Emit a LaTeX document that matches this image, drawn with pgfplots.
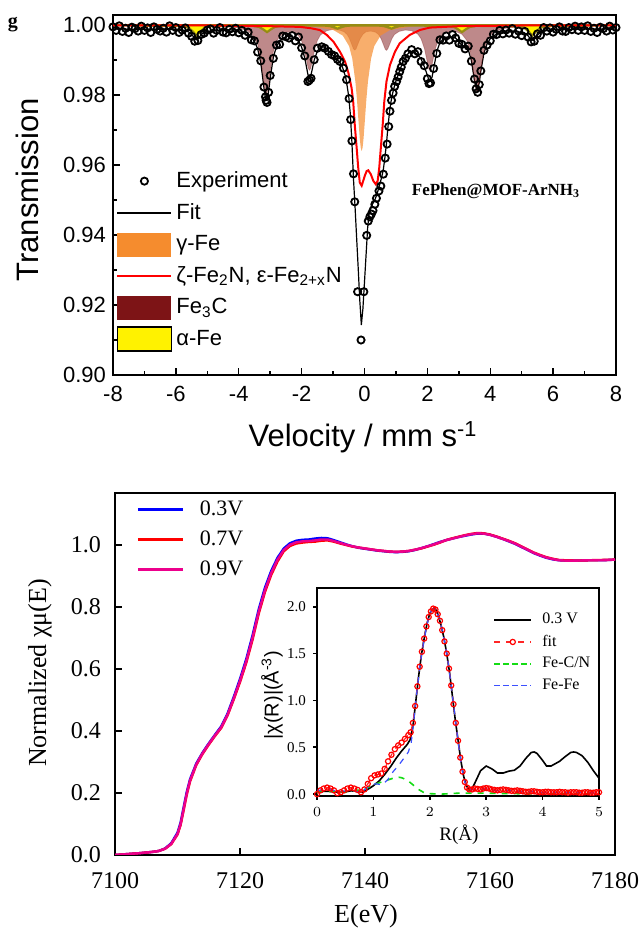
\documentclass[border=0pt]{standalone}
\usepackage{fontspec}
\setmainfont{Liberation Serif}
\newfontfamily\arial{Liberation Sans}
\usepackage{pgfplots}
\usepackage{pgfplotstable}
\pgfplotsset{compat=1.18}
\newcommand\fs[1]{\fontsize{#1}{#1}\selectfont}
\definecolor{fec}{RGB}{125,20,22}
\definecolor{gfe}{RGB}{245,140,46}
\definecolor{afeline}{RGB}{150,140,20}
\definecolor{grn}{RGB}{20,220,20}
\definecolor{bludash}{RGB}{60,80,255}

\pgfplotstableread{
E b r m
7100 0.000 0.000 0.000
7102 0.003 0.003 0.003
7104 0.006 0.006 0.006
7106 0.010 0.010 0.010
7107 0.013 0.013 0.013
7108 0.021 0.020 0.020
7109 0.038 0.035 0.036
7110 0.072 0.066 0.068
7110.5 0.105 0.097 0.100
7111 0.156 0.146 0.150
7111.5 0.205 0.196 0.200
7112 0.244 0.237 0.240
7113 0.295 0.290 0.292
7114 0.330 0.326 0.328
7115 0.360 0.356 0.358
7116 0.388 0.384 0.386
7117 0.415 0.410 0.412
7118 0.456 0.450 0.452
7119 0.510 0.502 0.505
7120 0.568 0.558 0.562
7121 0.632 0.620 0.625
7122 0.708 0.694 0.700
7123 0.793 0.779 0.785
7124 0.863 0.849 0.855
7125 0.917 0.904 0.910
7126 0.959 0.947 0.953
7127 0.989 0.980 0.984
7128 1.006 0.997 1.001
7129 1.014 1.005 1.009
7130 1.017 1.008 1.012
7131 1.018 1.010 1.013
7132 1.021 1.011 1.015
7133 1.023 1.014 1.018
7134 1.022 1.015 1.018
7135 1.016 1.011 1.013
7136 1.009 1.005 1.007
7137 1.002 1.000 1.001
7138 0.996 0.995 0.996
7139 0.991 0.992 0.992
7140 0.988 0.989 0.989
7141 0.985 0.986 0.986
7142 0.982 0.983 0.983
7143 0.980 0.981 0.981
7144 0.978 0.979 0.979
7145 0.977 0.978 0.978
7146 0.978 0.979 0.979
7147 0.980 0.981 0.981
7148 0.984 0.985 0.985
7149 0.990 0.989 0.990
7150 0.996 0.995 0.996
7151 1.003 1.001 1.002
7152 1.010 1.008 1.009
7153 1.016 1.016 1.016
7154 1.021 1.022 1.021
7155 1.026 1.027 1.026
7156 1.030 1.032 1.031
7157 1.034 1.036 1.035
7158 1.037 1.039 1.038
7159 1.037 1.038 1.037
7160 1.033 1.034 1.033
7161 1.027 1.028 1.027
7162 1.020 1.021 1.020
7163 1.012 1.014 1.013
7164 1.004 1.006 1.005
7165 0.994 0.996 0.995
7166 0.984 0.986 0.985
7167 0.974 0.976 0.975
7168 0.966 0.968 0.967
7169 0.959 0.961 0.960
7170 0.954 0.956 0.955
7171 0.951 0.952 0.951
7172 0.950 0.951 0.950
7174 0.950 0.950 0.950
7176 0.951 0.951 0.951
7178 0.951 0.952 0.951
7180 0.953 0.953 0.953
}\xanes

\pgfplotstableread{
R y
0.00 0.02
0.10 0.03
0.20 0.03
0.30 0.025
0.40 0.02
0.50 0.025
0.60 0.035
0.70 0.03
0.80 0.02
0.90 0.05
1.00 0.09
1.10 0.14
1.20 0.21
1.30 0.29
1.40 0.38
1.50 0.46
1.60 0.53
1.65 0.58
1.70 0.72
1.75 0.98
1.80 1.25
1.85 1.48
1.90 1.66
1.95 1.82
2.00 1.93
2.05 1.975
2.08 1.98
2.10 1.975
2.15 1.91
2.20 1.80
2.25 1.67
2.30 1.50
2.35 1.30
2.40 1.05
2.45 0.80
2.50 0.58
2.55 0.36
2.60 0.19
2.65 0.09
2.70 0.04
2.75 0.06
2.80 0.12
2.90 0.25
3.00 0.30
3.10 0.27
3.20 0.225
3.30 0.225
3.40 0.245
3.50 0.255
3.60 0.30
3.70 0.38
3.80 0.445
3.85 0.45
3.90 0.435
4.00 0.36
4.07 0.30
4.15 0.30
4.30 0.35
4.40 0.40
4.50 0.445
4.55 0.45
4.60 0.445
4.70 0.41
4.80 0.34
4.90 0.25
5.00 0.17
}\chidata

\pgfplotstableread{
R y
0.00 0.00
0.06 0.04
0.12 0.06
0.18 0.07
0.24 0.06
0.30 0.04
0.36 0.01
0.42 0.02
0.48 0.04
0.54 0.06
0.60 0.07
0.66 0.06
0.72 0.045
0.78 0.02
0.84 0.05
0.90 0.11
0.96 0.17
1.02 0.20
1.08 0.21
1.14 0.22
1.20 0.27
1.26 0.35
1.32 0.42
1.38 0.48
1.44 0.52
1.50 0.55
1.56 0.59
1.62 0.63
1.66 0.66
1.70 0.76
1.74 0.94
1.78 1.15
1.82 1.36
1.86 1.52
1.90 1.66
1.94 1.79
1.98 1.89
2.02 1.95
2.06 1.98
2.10 1.97
2.14 1.92
2.18 1.85
2.22 1.75
2.26 1.63
2.30 1.50
2.34 1.34
2.38 1.16
2.42 0.96
2.46 0.76
2.50 0.57
2.54 0.39
2.58 0.24
2.62 0.13
2.66 0.07
2.70 0.05
2.75 0.05
2.80 0.06
2.85 0.055
2.90 0.05
2.95 0.06
3.00 0.065
3.05 0.06
3.10 0.05
3.15 0.045
3.20 0.04
3.25 0.045
3.30 0.05
3.35 0.045
3.40 0.04
3.45 0.035
3.50 0.035
3.55 0.04
3.60 0.035
3.65 0.03
3.70 0.025
3.75 0.025
3.80 0.03
3.85 0.03
3.90 0.025
3.95 0.02
4.00 0.02
4.05 0.025
4.10 0.025
4.15 0.02
4.20 0.02
4.25 0.02
4.30 0.025
4.35 0.02
4.40 0.02
4.45 0.015
4.50 0.02
4.55 0.02
4.60 0.02
4.65 0.015
4.70 0.015
4.75 0.02
4.80 0.02
4.85 0.015
4.90 0.015
4.95 0.02
5.00 0.02
}\chifit

\pgfplotstableread{
R y
0.00 0.04
0.10 0.045
0.20 0.05
0.30 0.04
0.40 0.03
0.50 0.035
0.60 0.04
0.70 0.03
0.78 0.02
0.85 0.05
0.95 0.10
1.05 0.11
1.15 0.10
1.25 0.15
1.35 0.24
1.45 0.31
1.55 0.39
1.62 0.45
1.67 0.55
1.70 0.70
1.74 0.92
1.78 1.14
1.82 1.35
1.86 1.51
1.90 1.65
1.94 1.78
1.98 1.88
2.02 1.95
2.06 1.98
2.10 1.97
2.14 1.92
2.18 1.85
2.22 1.75
2.26 1.63
2.30 1.50
2.34 1.34
2.38 1.16
2.42 0.96
2.46 0.76
2.50 0.57
2.54 0.39
2.58 0.24
2.62 0.13
2.66 0.07
2.70 0.045
2.80 0.05
2.90 0.045
3.00 0.06
3.10 0.045
3.20 0.035
3.30 0.045
3.40 0.04
3.50 0.03
3.60 0.03
3.70 0.02
3.80 0.03
3.90 0.025
4.00 0.015
4.20 0.02
4.40 0.015
4.60 0.02
4.80 0.01
5.00 0.015
}\chifefe

\pgfplotstableread{
R y
0.0 0.02
0.3 0.03
0.5 0.02
0.7 0.04
0.8 0.05
0.9 0.07
1.0 0.10
1.1 0.12
1.2 0.14
1.3 0.16
1.4 0.18
1.45 0.18
1.5 0.175
1.6 0.15
1.7 0.10
1.8 0.05
1.9 0.015
2.0 0.005
2.2 0.0
2.5 0.01
3.0 0.01
3.5 0.005
4.0 0.0
4.5 0.005
5.0 0.005
}\chifec

\begin{document}
\begin{tikzpicture}
\useasboundingbox (0,0) rectangle (320pt,465pt);

% ================= TOP: Moessbauer =================
\begin{axis}[
  at={(56.5pt,277.5pt)}, anchor=south west,
  width=251.5pt, height=180pt, scale only axis,
  xmin=-8, xmax=8, ymin=0.9, ymax=1.0029,
  xtick={-8,-6,-4,-2,0,2,4,6,8}, xticklabels={-8,-6,-4,-2,0,2,4,6,8},
  ytick={0.9,0.92,0.94,0.96,0.98,1.0}, yticklabels={0.90,0.92,0.94,0.96,0.98,1.00},
  minor xtick={-7,-5,-3,-1,1,3,5,7}, minor ytick={0.91,0.93,0.95,0.97,0.99},
  tick pos=left, tick align=inside, major tick length=3.5pt, minor tick length=2pt,
  axis line style={line width=0.7pt}, tick style={line width=0.7pt, black},
  tick label style={font=\arial\fs{11}},
  xticklabel style={yshift=-2pt},
  legend style={at={(0.006,0.577)}, anchor=north west, draw=none, fill=none,
    font=\arial\fs{11}, row sep=2.5pt, inner sep=0pt, cells={anchor=west}},
]
% experiment
\addplot[only marks, mark=o, mark size=1.8pt, mark options={line width=0.9pt, black}, forget plot] coordinates {
(-8.0,.9995) (-7.9,.9985) (-7.8,.9998) (-7.7,.9982) (-7.6,.9991) (-7.5,.9979) (-7.4,.9994) (-7.3,.9990) (-7.2,.9983) (-7.1,.9997)
(-7.0,.9985) (-6.9,.9992) (-6.8,.9979) (-6.7,.9995) (-6.6,.9988) (-6.5,.9983) (-6.4,.9991) (-6.3,.9980) (-6.2,.9998) (-6.1,.9985)
(-6.0,.9993) (-5.9,.9979) (-5.8,.9986) (-5.7,.9992) (-5.6,.9977) (-5.5,.9968) (-5.4,.9954) (-5.3,.9956) (-5.2,.9973) (-5.1,.9977)
(-5.0,.9986) (-4.9,.9989) (-4.8,.9977) (-4.7,.9985) (-4.6,.9993) (-4.5,.9980) (-4.4,.9978) (-4.3,.9988) (-4.2,.9981) (-4.1,.9991)
(-4.0,.9978) (-3.9,.9985) (-3.8,.9971) (-3.7,.9980) (-3.6,.9958) (-3.5,.9955) (-3.4,.9923) (-3.3,.9898) (-3.2,.9823) (-3.15,.9795)
(-3.13,.9785) (-3.1,.9779) (-3.05,.9808) (-3.0,.9856) (-2.9,.9905) (-2.8,.9943) (-2.7,.9945) (-2.6,.9969) (-2.5,.9967) (-2.4,.9963)
(-2.3,.9970) (-2.2,.9955) (-2.1,.9966) (-2.0,.9935) (-1.9,.9912) (-1.8,.9839) (-1.75,.9843) (-1.7,.9848) (-1.6,.9901) (-1.5,.9934)
(-1.36,.9938) (-1.26,.9934) (-1.15,.9925) (-1.05,.9916) (-0.95,.9912) (-0.86,.9902) (-0.78,.9896) (-0.67,.9877) (-0.57,.9844)
(-0.49,.9790) (-0.44,.9730) (-0.40,.9669) (-0.35,.9575) (-0.31,.9495) (-0.22,.9238) (-0.11,.9100) (-0.02,.9238) (0.07,.9399)
(0.12,.9440) (0.17,.9452) (0.22,.9460) (0.27,.9470) (0.33,.9488) (0.38,.9505) (0.46,.9526) (0.52,.9540) (0.60,.9574) (0.66,.9620)
(0.72,.9660) (0.77,.9710) (0.81,.9754) (0.86,.9785) (0.91,.9806) (0.96,.9825) (1.02,.9839) (1.07,.9852) (1.12,.9867) (1.17,.9880)
(1.23,.9896) (1.30,.9905) (1.38,.9918) (1.5,.9930) (1.6,.9918) (1.7,.9924) (1.8,.9896) (1.9,.9884) (2.0,.9847) (2.05,.9833)
(2.1,.9835) (2.2,.9876) (2.3,.9919) (2.4,.9958) (2.5,.9957) (2.6,.9969) (2.7,.9957) (2.8,.9973) (2.9,.9963) (3.0,.9948)
(3.1,.9945) (3.2,.9932) (3.3,.9940) (3.4,.9897) (3.5,.9846) (3.55,.9818) (3.6,.9808) (3.65,.9830) (3.7,.9869) (3.8,.9928)
(3.9,.9943) (4.0,.9955) (4.1,.9974) (4.2,.9973) (4.3,.9985) (4.4,.9975) (4.5,.9986) (4.6,.9977) (4.7,.9990) (4.8,.9974)
(4.9,.9983) (5.0,.9970) (5.1,.9982) (5.2,.9966) (5.3,.9952) (5.4,.9954) (5.5,.9975) (5.6,.9971) (5.7,.9993) (5.8,.9983)
(5.9,.9992) (6.0,.9980) (6.1,.9988) (6.2,.9995) (6.3,.9983) (6.4,.9982) (6.5,.9993) (6.6,.9987) (6.7,.9997) (6.8,.9985)
(6.9,.9995) (7.0,.9985) (7.1,.9998) (7.2,.9982) (7.3,.9991) (7.4,.9979) (7.5,.9994) (7.6,.9990) (7.7,.9983) (7.8,.9997)
(7.9,.9986) (8.0,.9993)};
% fit
\addplot[black, line width=0.6pt, forget plot] coordinates {
(-8,.9989) (-7,.9988) (-6.5,.9988) (-6.2,.9988) (-6.0,.9987) (-5.9,.9986) (-5.8,.9985) (-5.7,.9984) (-5.6,.9981) (-5.5,.9974)
(-5.4,.9962) (-5.34,.9958) (-5.3,.9960) (-5.2,.9972) (-5.1,.9980) (-5.0,.9982) (-4.9,.9983) (-4.8,.9984) (-4.6,.9985) (-4.4,.9984)
(-4.3,.9983) (-4.2,.9982) (-4.1,.9982) (-4.0,.9981) (-3.9,.9979) (-3.8,.9975) (-3.7,.9971) (-3.6,.9965) (-3.5,.9953) (-3.4,.9933)
(-3.3,.9893) (-3.2,.9822) (-3.15,.9789) (-3.1,.9785) (-3.05,.9811) (-3.0,.9848) (-2.9,.9908) (-2.8,.9939) (-2.7,.9954) (-2.6,.9962)
(-2.5,.9967) (-2.4,.9968) (-2.3,.9967) (-2.2,.9963) (-2.1,.9956) (-2.0,.9937) (-1.9,.9906) (-1.8,.9859) (-1.75,.9850) (-1.7,.9858)
(-1.6,.9900) (-1.5,.9926) (-1.4,.9936) (-1.3,.9938) (-1.2,.9932) (-1.1,.9923) (-1.0,.9914) (-0.9,.9905) (-0.8,.9895) (-0.7,.9880)
(-0.6,.9852) (-0.55,.9825) (-0.5,.9795) (-0.45,.9745) (-0.4,.9665) (-0.35,.9560) (-0.3,.9480) (-0.25,.9392) (-0.2,.9305) (-0.15,.9214)
(-0.1,.9143) (-0.05,.9190) (0.0,.9266) (0.05,.9343) (0.1,.9420) (0.15,.9465) (0.2,.9480) (0.25,.9488) (0.3,.9495) (0.35,.9505)
(0.4,.9518) (0.45,.9533) (0.5,.9550) (0.55,.9566) (0.6,.9588) (0.65,.9622) (0.7,.9663) (0.75,.9712) (0.8,.9755) (0.85,.9785)
(0.9,.9807) (0.95,.9825) (1.0,.9840) (1.1,.9865) (1.2,.9890) (1.3,.9908) (1.4,.9920) (1.5,.9924) (1.6,.9922) (1.7,.9915)
(1.8,.9903) (1.9,.9882) (2.0,.9857) (2.05,.9842) (2.1,.9840) (2.15,.9852) (2.2,.9875) (2.3,.9925) (2.4,.9950) (2.5,.9960)
(2.6,.9965) (2.7,.9966) (2.8,.9966) (2.9,.9963) (3.0,.9953) (3.1,.9942) (3.2,.9940) (3.3,.9930) (3.4,.9899) (3.5,.9840)
(3.58,.9812) (3.65,.9835) (3.7,.9868) (3.8,.9920) (3.9,.9947) (4.0,.9961) (4.1,.9969) (4.2,.9974) (4.3,.9976) (4.4,.9978)
(4.5,.9980) (4.6,.9981) (4.9,.9981) (5.0,.9980) (5.1,.9977) (5.2,.9970) (5.3,.9958) (5.34,.9957) (5.4,.9960) (5.5,.9972)
(5.6,.9979) (5.7,.9983) (5.8,.9985) (5.9,.9986) (6.0,.9987) (6.5,.9988) (7.0,.9989) (8.0,.9989)};
% Fe3C
\addplot[fill=fec, fill opacity=0.5, draw=fec, draw opacity=0.3, line width=0.4pt, forget plot] coordinates {
(-8,1.0) (-6,.9999) (-5,.9998) (-4.5,.9996) (-4,.9992) (-3.7,.9983) (-3.5,.9966) (-3.4,.9946) (-3.3,.9906) (-3.2,.9838)
(-3.16,.9813) (-3.12,.9803) (-3.08,.9813) (-3.0,.9867) (-2.9,.9924) (-2.8,.9953) (-2.7,.9968) (-2.5,.9980) (-2.3,.9980) (-2.1,.9970)
(-2.0,.9955) (-1.92,.9932) (-1.85,.9902) (-1.79,.9877) (-1.75,.9871) (-1.71,.9877) (-1.65,.9903) (-1.58,.9933) (-1.5,.9956) (-1.4,.9972)
(-1.2,.9984) (-1.0,.9988) (-0.8,.9986) (-0.65,.9981) (-0.55,.9973) (-0.48,.9962) (-0.41,.9946) (-0.35,.9932) (-0.31,.9929) (-0.27,.9932)
(-0.21,.9946) (-0.14,.9961) (-0.05,.9974) (0.05,.9981) (0.2,.9983) (0.35,.9980) (0.45,.9973) (0.53,.9961) (0.6,.9945) (0.66,.9931)
(0.70,.9928) (0.74,.9932) (0.8,.9945) (0.87,.9961) (0.95,.9973) (1.1,.9982) (1.3,.9986) (1.5,.9984) (1.7,.9974) (1.8,.9961)
(1.91,.9932) (1.98,.9902) (2.04,.9876) (2.08,.9870) (2.12,.9875) (2.18,.9901) (2.25,.9931) (2.35,.9958) (2.5,.9975) (2.7,.9982)
(2.9,.9982) (3.1,.9974) (3.25,.9957) (3.35,.9931) (3.45,.9879) (3.5,.9845) (3.54,.9821) (3.58,.9812) (3.62,.9822) (3.66,.9845)
(3.75,.9904) (3.85,.9944) (3.95,.9965) (4.1,.9980) (4.4,.9990) (5,.9996) (6,.9999) (8,1.0)} -- cycle;
% gamma-Fe
\addplot[fill=gfe, fill opacity=0.7, draw=none, forget plot] coordinates {
(-2.0,1.0) (-1.59,.9995) (-0.99,.9986) (-0.69,.9970) (-0.49,.9940) (-0.39,.9905) (-0.29,.9839) (-0.24,.9788) (-0.19,.9725)
(-0.15,.9676) (-0.12,.9650) (-0.09,.9640) (-0.06,.9650) (-0.03,.9676) (0.01,.9725) (0.06,.9788) (0.11,.9839) (0.21,.9905)
(0.31,.9940) (0.51,.9970) (0.81,.9986) (1.41,.9995) (1.8,1.0)} -- cycle;
% alpha-Fe
\addplot[fill=yellow, draw=afeline, line width=1.1pt, forget plot] coordinates {
(-8,1) (-5.79,.99969) (-5.59,.99922) (-5.46,.99817) (-5.34,.997) (-5.22,.99817) (-5.09,.99922) (-4.89,.99969)
(-3.55,.99979) (-3.35,.99948) (-3.22,.99878) (-3.1,.998) (-2.98,.99878) (-2.85,.99948) (-2.65,.99979)
(-1.31,.9999) (-1.11,.99974) (-0.98,.99939) (-0.86,.999) (-0.74,.99939) (-0.61,.99974) (-0.41,.9999)
(0.41,.9999) (0.61,.99974) (0.74,.99939) (0.86,.999) (0.98,.99939) (1.11,.99974) (1.31,.9999)
(2.65,.99979) (2.85,.99948) (2.98,.99878) (3.1,.998) (3.22,.99878) (3.35,.99948) (3.55,.99979)
(4.89,.99969) (5.09,.99922) (5.22,.99817) (5.34,.997) (5.46,.99817) (5.59,.99922) (5.79,.99969) (8,1)} -- cycle;
% zeta/epsilon nitrides
\addplot[red, line width=1pt, forget plot] coordinates {
(-8,.99995) (-5,.9999) (-3,.9997) (-2.05,.9995) (-1.7,.9991) (-1.42,.9986) (-1.2,.9972) (-0.99,.9953) (-0.78,.9924)
(-0.62,.9896) (-0.51,.9863) (-0.41,.9820) (-0.36,.9782) (-0.31,.9716) (-0.25,.9650) (-0.2,.9593) (-0.15,.9550) (-0.09,.9541)
(-0.04,.9555) (0.02,.9572) (0.07,.9583) (0.12,.9585) (0.2,.9574) (0.28,.9555) (0.36,.9545) (0.42,.9555) (0.47,.9593)
(0.52,.9650) (0.58,.9716) (0.63,.9782) (0.70,.9839) (0.81,.9886) (0.97,.9924) (1.12,.9948) (1.44,.9972) (1.76,.9986)
(2.08,.9993) (3,.9997) (5,.9999) (8,.99995)};
% legend
\addlegendimage{legend image code/.code={\path[draw=none,fill=none] (0pt,-6pt) rectangle (27pt,6pt); \draw[black, fill=none, line width=0.9pt] (13.5pt,0pt) circle (1.8pt);}}
\addlegendentry{Experiment}
\addlegendimage{legend image code/.code={\path[draw=none,fill=none] (0pt,-6pt) rectangle (27pt,6pt); \draw[black, line width=0.6pt] (0pt,0pt) -- (27pt,0pt);}}
\addlegendentry{Fit}
\addlegendimage{legend image code/.code={\fill[gfe, draw=none] (0pt,-6pt) rectangle (27pt,6pt);}}
\addlegendentry{γ-Fe}
\addlegendimage{legend image code/.code={\path[draw=none,fill=none] (0pt,-6pt) rectangle (27pt,6pt); \draw[red, line width=1pt] (0pt,0pt) -- (27pt,0pt);}}
\addlegendentry{ζ-Fe\textsubscript{2}N, ε-Fe\textsubscript{2+x}N}
\addlegendimage{legend image code/.code={\fill[fec, draw=none] (0pt,-6pt) rectangle (27pt,6pt);}}
\addlegendentry{Fe\textsubscript{3}C}
\addlegendimage{legend image code/.code={\filldraw[fill=yellow, draw=black, line width=0.6pt] (0pt,-6pt) rectangle (27pt,6pt);}}
\addlegendentry{α-Fe}
\end{axis}

% ================= BOTTOM: XANES =================
\begin{axis}[
  at={(57.5pt,37.5pt)}, anchor=south west,
  width=250pt, height=181pt, scale only axis,
  xmin=7100, xmax=7180, ymin=0, ymax=1.168,
  xtick={7100,7120,7140,7160,7180}, xticklabels={7100,7120,7140,7160,7180},
  ytick={0,0.2,0.4,0.6,0.8,1.0}, yticklabels={0.0,0.2,0.4,0.6,0.8,1.0},
  tick pos=left, tick align=inside, major tick length=3.5pt,
  axis line style={line width=1.3pt}, tick style={line width=1.3pt, black},
  tick label style={font=\fs{12}},
  xticklabel style={yshift=-5pt}, yticklabel style={xshift=-3.5pt},
  legend style={at={(0.042,0.99)}, anchor=north west, draw=none, fill=none,
    font=\fs{11}, row sep=2.2pt, inner sep=0pt, cells={anchor=west}},
]
\addplot[blue, line width=1.2pt,
  legend image code/.code={\draw[blue, line width=1.5pt] (0pt,0pt) -- (22.5pt,0pt); \path[draw=none] (0pt,0pt) -- (29pt,0pt);}]
  table[x=E, y=b]{\xanes};
\addlegendentry{0.3V}
\addplot[red, line width=1.2pt,
  legend image code/.code={\draw[red, line width=1.5pt] (0pt,0pt) -- (22.5pt,0pt); \path[draw=none] (0pt,0pt) -- (29pt,0pt);}]
  table[x=E, y=r]{\xanes};
\addlegendentry{0.7V}
\addplot[magenta, line width=1.2pt,
  legend image code/.code={\draw[magenta, line width=1.5pt] (0pt,0pt) -- (22.5pt,0pt); \path[draw=none] (0pt,0pt) -- (29pt,0pt);}]
  table[x=E, y=m]{\xanes};
\addlegendentry{0.9V}
\end{axis}

% ================= INSET =================
\begin{axis}[
  at={(158.5pt,67pt)}, anchor=south west,
  width=141pt, height=104pt, scale only axis,
  axis background/.style={fill=white},
  xmin=0, xmax=5, ymin=-0.02, ymax=2.2,
  xtick={0,1,2,3,4,5}, ytick={0,0.5,1,1.5,2}, yticklabels={0.0,0.5,1.0,1.5,2.0},
  tick pos=left, tick align=outside, major tick length=2pt,
  axis line style={line width=0.9pt}, tick style={line width=0.8pt, black},
  tick label style={font=\fs{7.5}},
  legend style={at={(0.624,0.9)}, anchor=north west, draw=none, fill=none,
    font=\fs{8}, row sep=0pt, inner sep=0pt, cells={anchor=west}},
]
\addplot[black, line width=0.8pt,
  legend image code/.code={\draw[black, solid, line width=0.8pt] (0pt,0pt) -- (18.5pt,0pt); \path[draw=none] (0pt,0pt) -- (22pt,0pt);}]
  table[x=R, y=y]{\chidata};
\addlegendentry{0.3 V}
\addplot[red!85, dashed, line width=0.6pt, mark=o, mark size=1.3pt, mark options={solid, red, line width=0.6pt},
  legend image code/.code={\draw[red!85, dashed, line width=0.6pt] (0pt,0pt) -- (18.5pt,0pt); \draw[solid, red, line width=0.6pt, fill=white] (9.25pt,0pt) circle (1.3pt); \path[draw=none] (0pt,0pt) -- (22pt,0pt);}]
  table[x=R, y=y]{\chifit};
\addlegendentry{fit}
\addplot[grn, dashed, line width=0.8pt,
  legend image code/.code={\draw[color=grn, dash pattern=on 3pt off 1.5pt, line width=0.9pt] (0pt,0pt) -- (18.5pt,0pt); \path[draw=none] (0pt,0pt) -- (22pt,0pt);}]
  table[x=R, y=y]{\chifec};
\addlegendentry{Fe-C/N}
\addplot[bludash, dashed, line width=0.6pt,
  legend image code/.code={\draw[color=bludash, dash pattern=on 3pt off 1.5pt, line width=0.9pt] (0pt,0pt) -- (18.5pt,0pt); \path[draw=none] (0pt,0pt) -- (22pt,0pt);}]
  table[x=R, y=y]{\chifefe};
\addlegendentry{Fe-Fe}
\end{axis}

% ================= labels =================
\node[font=\arial\fs{15.5}] at (181.5pt,246.5pt) {Velocity / mm s\textsuperscript{-1}};
\node[font=\arial\fs{15.5}, rotate=90] at (13.5pt,370pt) {Transmission};
\node[font=\bfseries\fs{10}] at (6.5pt,452.5pt) {g};
\node[font=\bfseries\fs{8.5}] at (248pt,369.5pt) {FePhen@MOF-ArNH\textsubscript{3}};
\node[font=\fs{13}] at (183pt,7pt) {E(eV)};
\node[font=\fs{13}, rotate=90] at (20pt,128.5pt) {Normalized χμ(E)};
\node[font=\fs{9.5}] at (229.5pt,47.5pt) {R(Å)};
\node[font=\arial\fs{10}, rotate=90] at (136pt,117.5pt) {|χ(R)|(Å\textsuperscript{-3})};
\end{tikzpicture}
\end{document}
